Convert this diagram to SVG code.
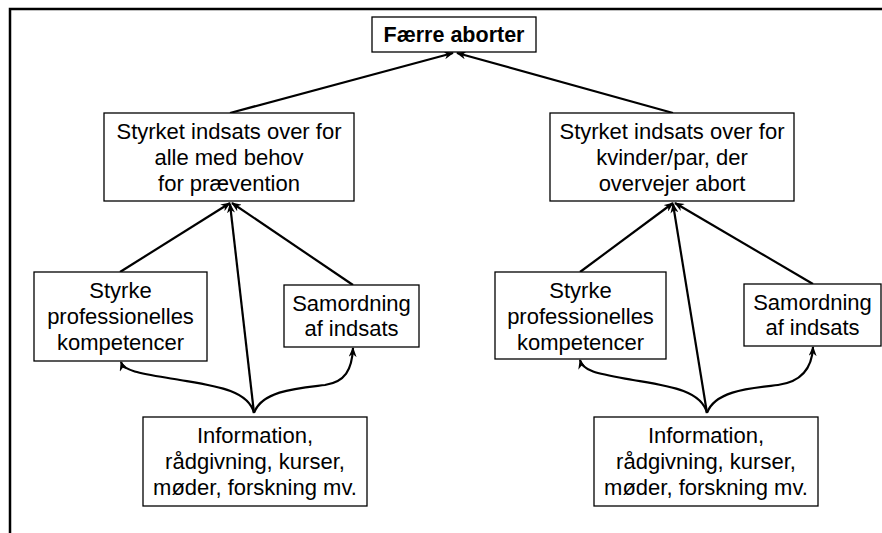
<svg xmlns="http://www.w3.org/2000/svg" width="882" height="533" viewBox="0 0 882 533">
<defs>
<style>
.box{fill:#fff;stroke:#000;stroke-width:1.3}
.t{font-family:"Liberation Sans",Arial,sans-serif;font-size:22px;fill:#000;text-anchor:middle}
.b{font-weight:bold;font-size:21.5px}
.c{fill:none;stroke:#000;stroke-width:2.2}
</style>
<marker id="ah" markerWidth="10" markerHeight="8" refX="9" refY="4" orient="auto" markerUnits="userSpaceOnUse">
<path d="M0,0 L10,4 L0,8 L3,4 Z" fill="#000"/>
</marker>
</defs>
<rect x="0" y="0" width="882" height="533" fill="#fff"/>
<path d="M10,533 L10,9 L882,9" fill="none" stroke="#000" stroke-width="2.5"/>
<g id="connectors">
<path class="c" d="M230,113 L453,53" marker-end="url(#ah)"/>
<path class="c" d="M673,113 L457,53" marker-end="url(#ah)"/>
<path class="c" d="M120,272 L230,203" marker-end="url(#ah)"/>
<path class="c" d="M353,285 L232,203" marker-end="url(#ah)"/>
<path class="c" d="M254,413 L230,204" marker-end="url(#ah)"/>
<path class="c" d="M254,413 C248,390 215,386 180,380 C145,374 124,372 121,362" marker-end="url(#ah)"/>
<path class="c" d="M254,413 C262,390 300,388 325,385 C345,382 352,370 353,348" marker-end="url(#ah)"/>
<path class="c" d="M580,272 L673,203" marker-end="url(#ah)"/>
<path class="c" d="M813,284 L675,203" marker-end="url(#ah)"/>
<path class="c" d="M707,413 L673,204" marker-end="url(#ah)"/>
<path class="c" d="M707,413 C701,390 668,386 633,380 C600,374 583,372 580,360" marker-end="url(#ah)"/>
<path class="c" d="M707,413 C715,390 753,388 778,385 C800,382 812,370 813,347" marker-end="url(#ah)"/>
</g>
<g id="top">
<rect class="box" x="372" y="17" width="164" height="35"/>
<text class="t b" x="454" y="42">Færre aborter</text>
</g>
<g id="mid-left">
<rect class="box" x="104" y="113" width="250" height="88"/>
<text class="t" x="229" y="139">Styrket indsats over for</text>
<text class="t" x="229" y="165">alle med behov</text>
<text class="t" x="229" y="191">for prævention</text>
</g>
<g id="mid-right">
<rect class="box" x="550" y="113" width="244" height="88"/>
<text class="t" x="672" y="139">Styrket indsats over for</text>
<text class="t" x="672" y="165">kvinder/par, der</text>
<text class="t" x="672" y="191">overvejer abort</text>
</g>
<g id="kompetencer-left">
<rect class="box" x="34" y="272" width="173" height="89"/>
<text class="t" x="120.5" y="298">Styrke</text>
<text class="t" x="120.5" y="324">professionelles</text>
<text class="t" x="120.5" y="350">kompetencer</text>
</g>
<g id="samordning-left">
<rect class="box" x="284" y="285" width="135" height="62"/>
<text class="t" x="351.5" y="311">Samordning</text>
<text class="t" x="351.5" y="336">af indsats</text>
</g>
<g id="kompetencer-right">
<rect class="box" x="495" y="272" width="171" height="87"/>
<text class="t" x="580.5" y="298">Styrke</text>
<text class="t" x="580.5" y="324">professionelles</text>
<text class="t" x="580.5" y="350">kompetencer</text>
</g>
<g id="samordning-right">
<rect class="box" x="744" y="284" width="137" height="62"/>
<text class="t" x="812.5" y="310">Samordning</text>
<text class="t" x="812.5" y="335">af indsats</text>
</g>
<g id="info-left">
<rect class="box" x="143" y="417" width="224" height="89"/>
<text class="t" x="255" y="443">Information,</text>
<text class="t" x="255" y="469">rådgivning, kurser,</text>
<text class="t" x="255" y="495">møder, forskning mv.</text>
</g>
<g id="info-right">
<rect class="box" x="594" y="417" width="224" height="89"/>
<text class="t" x="706" y="443">Information,</text>
<text class="t" x="706" y="469">rådgivning, kurser,</text>
<text class="t" x="706" y="495">møder, forskning mv.</text>
</g>
</svg>
